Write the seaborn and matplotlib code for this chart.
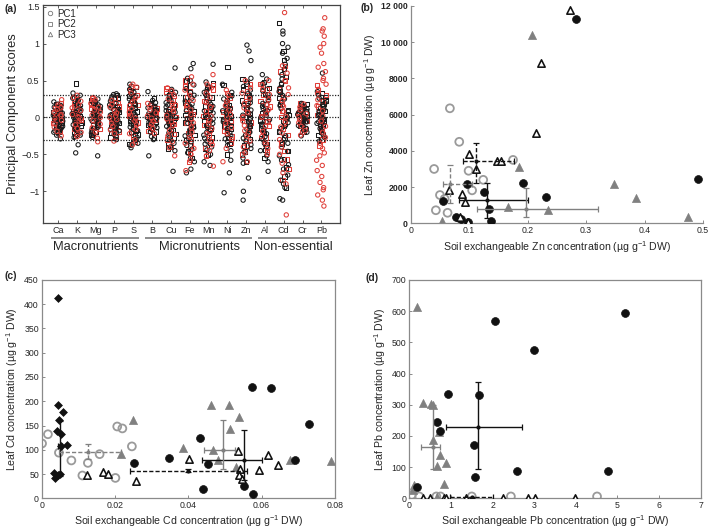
import numpy as np
import pandas as pd
import matplotlib
matplotlib.use("Agg")
import matplotlib.pyplot as plt
from matplotlib.lines import Line2D
import seaborn as sns

# ---------------- Panel (a): PC scores per element ----------------
elements = ["Ca", "K", "Mg", "P", "S", "B", "Cu", "Fe", "Mn", "Ni", "Zn", "Al", "Cd", "Cr", "Pb"]
groups = ["Macronutrients", "Micronutrients", "Non-essential"]
group_members = [["Ca", "K", "Mg", "P", "S"], ["B", "Cu", "Fe", "Mn", "Ni", "Zn"], ["Al", "Cd", "Cr", "Pb"]]
a_yticks = [-1, -0.5, 0, 0.5, 1, 1.5]
a_yticklabels = ["\u22121", "\u22120.5", "0", "0.5", "1", "1.5"]
a_reflines = [-0.3, 0, 0.3]

# circles (PC1): black / red
ca_k = [-0.29, -0.24, -0.22, -0.2, -0.18, -0.17, -0.15, -0.14, -0.12, -0.11, -0.1, -0.08, -0.07, -0.06, -0.05, -0.03, -0.02, -0.01, 0.0, 0.01, 0.02, 0.03, 0.05, 0.06, 0.08, 0.09, 0.1, 0.12, 0.14, 0.16, 0.18, 0.21]
ca_r = [-0.25, -0.19, -0.13, -0.09, -0.04, -0.01, 0.02, 0.04, 0.07, 0.11, 0.13, 0.17, 0.24]
k_k = [-0.48, -0.37, -0.27, -0.24, -0.21, -0.19, -0.16, -0.14, -0.12, -0.1, -0.08, -0.06, -0.05, -0.03, -0.01, 0.0, 0.02, 0.03, 0.05, 0.07, 0.08, 0.1, 0.12, 0.14, 0.16, 0.18, 0.2, 0.23, 0.26, 0.3, 0.33]
k_r = [-0.26, -0.2, -0.15, -0.1, -0.05, -0.02, 0.01, 0.04, 0.09, 0.13, 0.17, 0.22, 0.27, 0.3]
mg_k = [-0.52, -0.27, -0.24, -0.21, -0.19, -0.17, -0.15, -0.13, -0.11, -0.09, -0.08, -0.06, -0.05, -0.03, -0.02, 0.0, 0.01, 0.03, 0.04, 0.06, 0.07, 0.09, 0.11, 0.13, 0.15, 0.17, 0.19, 0.22, 0.25]
mg_r = [-0.33, -0.28, -0.2, -0.14, -0.09, -0.04, 0.0, 0.03, 0.07, 0.1, 0.14, 0.19, 0.24, 0.27]
p_k = [-0.3, -0.26, -0.23, -0.2, -0.18, -0.16, -0.14, -0.12, -0.1, -0.09, -0.07, -0.05, -0.04, -0.02, 0.0, 0.01, 0.03, 0.04, 0.06, 0.08, 0.1, 0.11, 0.13, 0.15, 0.17, 0.19, 0.22, 0.25, 0.28, 0.31, 0.32]
p_r = [-0.32, -0.22, -0.17, -0.12, -0.08, -0.03, 0.0, 0.02, 0.06, 0.09, 0.14, 0.18, 0.23]
s_k = [-0.41, -0.38, -0.35, -0.31, -0.27, -0.24, -0.21, -0.18, -0.16, -0.13, -0.11, -0.09, -0.06, -0.04, -0.02, 0.0, 0.02, 0.04, 0.06, 0.08, 0.1, 0.12, 0.14, 0.17, 0.19, 0.22, 0.25, 0.28, 0.31, 0.34, 0.38, 0.45]
s_r = [-0.37, -0.3, -0.22, -0.16, -0.1, -0.05, -0.01, 0.03, 0.07, 0.12, 0.16, 0.21, 0.27, 0.33, 0.41, 0.45]
b_k = [-0.52, -0.3, -0.26, -0.2, -0.17, -0.14, -0.12, -0.1, -0.08, -0.06, -0.04, -0.03, -0.01, 0.0, 0.02, 0.03, 0.05, 0.07, 0.09, 0.11, 0.13, 0.15, 0.17, 0.2, 0.23, 0.35]
b_r = [-0.22, -0.15, -0.09, -0.05, -0.01, 0.02, 0.06, 0.1, 0.14, 0.19]
cu_k = [-0.73, -0.45, -0.4, -0.35, -0.3, -0.27, -0.24, -0.21, -0.18, -0.15, -0.12, -0.1, -0.07, -0.05, -0.03, 0.0, 0.02, 0.04, 0.07, 0.09, 0.12, 0.14, 0.17, 0.2, 0.23, 0.26, 0.3, 0.34, 0.38, 0.67]
cu_r = [-0.52, -0.41, -0.33, -0.25, -0.18, -0.11, -0.06, -0.02, 0.03, 0.08, 0.13, 0.19, 0.25, 0.31, 0.36, 0.4]
fe_k = [-0.75, -0.7, -0.6, -0.55, -0.48, -0.43, -0.38, -0.33, -0.29, -0.25, -0.21, -0.17, -0.14, -0.11, -0.08, -0.05, -0.02, 0.0, 0.03, 0.06, 0.09, 0.12, 0.15, 0.18, 0.22, 0.26, 0.3, 0.34, 0.39, 0.44, 0.5, 0.53, 0.66, 0.73]
fe_r = [-0.72, -0.58, -0.5, -0.42, -0.35, -0.27, -0.2, -0.13, -0.07, -0.02, 0.04, 0.1, 0.16, 0.23, 0.3, 0.37, 0.45, 0.55]
mn_k = [-0.65, -0.6, -0.5, -0.44, -0.4, -0.36, -0.32, -0.28, -0.24, -0.2, -0.17, -0.14, -0.11, -0.08, -0.05, -0.02, 0.0, 0.03, 0.06, 0.09, 0.12, 0.15, 0.18, 0.22, 0.26, 0.3, 0.34, 0.38, 0.42, 0.48, 0.72]
mn_r = [-0.66, -0.52, -0.45, -0.37, -0.3, -0.22, -0.15, -0.09, -0.03, 0.02, 0.08, 0.14, 0.2, 0.27, 0.33, 0.4, 0.45, 0.58]
ni_k = [-1.02, -0.75, -0.58, -0.45, -0.38, -0.33, -0.29, -0.25, -0.21, -0.18, -0.15, -0.12, -0.09, -0.06, -0.04, -0.01, 0.01, 0.04, 0.06, 0.09, 0.12, 0.15, 0.18, 0.21, 0.25, 0.29, 0.34, 0.45]
ni_r = [-0.6, -0.42, -0.3, -0.22, -0.14, -0.08, -0.02, 0.04, 0.1, 0.16, 0.22, 0.3, 0.37]
zn_k = [-1.12, -1.0, -0.82, -0.62, -0.55, -0.47, -0.42, -0.37, -0.32, -0.28, -0.24, -0.2, -0.16, -0.13, -0.1, -0.06, -0.03, 0.0, 0.03, 0.06, 0.1, 0.13, 0.17, 0.2, 0.24, 0.28, 0.32, 0.37, 0.42, 0.48, 0.53, 0.77, 0.9, 0.98]
zn_r = [-0.6, -0.48, -0.4, -0.32, -0.25, -0.18, -0.11, -0.05, 0.01, 0.07, 0.13, 0.19, 0.26, 0.33, 0.4, 0.5]
al_k = [-0.73, -0.6, -0.52, -0.45, -0.4, -0.35, -0.3, -0.26, -0.22, -0.18, -0.15, -0.12, -0.09, -0.06, -0.03, 0.0, 0.03, 0.06, 0.09, 0.12, 0.15, 0.19, 0.23, 0.27, 0.31, 0.36, 0.41, 0.46, 0.52, 0.58]
al_r = [-0.5, -0.42, -0.34, -0.26, -0.19, -0.12, -0.06, 0.0, 0.05, 0.11, 0.17, 0.24, 0.31, 0.38, 0.44, 0.5]
cd_k = [-1.12, -1.1, -0.95, -0.9, -0.85, -0.78, -0.7, -0.64, -0.58, -0.52, -0.46, -0.4, -0.35, -0.3, -0.25, -0.2, -0.15, -0.11, -0.07, -0.03, 0.0, 0.04, 0.08, 0.12, 0.16, 0.2, 0.25, 0.3, 0.35, 0.4, 0.46, 0.52, 0.58, 0.65, 0.72, 0.8, 0.87, 0.95, 1.0, 1.13, 1.17]
cd_r = [-1.32, -0.9, -0.75, -0.62, -0.5, -0.4, -0.3, -0.21, -0.13, -0.06, 0.01, 0.08, 0.15, 0.23, 0.31, 0.4, 0.5, 0.6, 0.7, 1.42]
cr_k = [-0.25, -0.2, -0.17, -0.15, -0.13, -0.11, -0.09, -0.07, -0.06, -0.04, -0.03, -0.01, 0.0, 0.01, 0.03, 0.04, 0.06, 0.07, 0.09, 0.11, 0.13, 0.15, 0.17, 0.19]
cr_r = [-0.24, -0.18, -0.12, -0.07, -0.03, 0.01, 0.05, 0.1, 0.14, 0.18]
pb_k = [-0.32, -0.27, -0.23, -0.2, -0.17, -0.15, -0.12, -0.1, -0.08, -0.06, -0.04, -0.02, 0.0, 0.02, 0.04, 0.06, 0.08, 0.1, 0.12, 0.15, 0.17, 0.2, 0.23, 0.26, 0.3, 0.35, 0.6]
pb_r = [-1.2, -1.12, -1.05, -0.98, -0.95, -0.88, -0.8, -0.72, -0.65, -0.58, -0.52, -0.48, -0.42, -0.35, -0.27, -0.2, -0.12, -0.05, 0.02, 0.09, 0.16, 0.24, 0.32, 0.38, 0.45, 0.5, 0.53, 0.62, 0.68, 0.73, 0.87, 0.95, 1.0, 1.1, 1.17, 1.2, 1.35]

# squares (PC2): black / red
ca_k2 = [-0.2, -0.16, -0.13, -0.1, -0.07, -0.05, -0.03, 0.0, 0.02, 0.05, 0.07, 0.1, 0.14, 0.18]
ca_r2 = [-0.18, -0.12, -0.08, -0.04, -0.02, 0.01, 0.03, 0.06, 0.09, 0.12, 0.15, 0.2]
k_k2 = [-0.25, -0.2, -0.15, -0.11, -0.07, -0.04, -0.01, 0.02, 0.05, 0.09, 0.13, 0.17, 0.22, 0.28, 0.46]
k_r2 = [-0.22, -0.16, -0.12, -0.07, -0.03, 0.0, 0.03, 0.07, 0.11, 0.15, 0.2, 0.25]
mg_k2 = [-0.24, -0.19, -0.14, -0.1, -0.07, -0.04, -0.01, 0.02, 0.05, 0.08, 0.12, 0.16, 0.2, 0.24]
mg_r2 = [-0.22, -0.16, -0.11, -0.07, -0.03, 0.0, 0.04, 0.08, 0.12, 0.17, 0.22, 0.26]
p_k2 = [-0.27, -0.21, -0.16, -0.12, -0.08, -0.05, -0.02, 0.01, 0.04, 0.07, 0.11, 0.15, 0.2, 0.26, 0.3]
p_r2 = [-0.26, -0.19, -0.13, -0.09, -0.05, -0.01, 0.03, 0.06, 0.1, 0.15, 0.2, 0.27]
s_k2 = [-0.36, -0.29, -0.23, -0.18, -0.13, -0.08, -0.04, 0.0, 0.04, 0.08, 0.13, 0.18, 0.23, 0.29, 0.35, 0.41]
s_r2 = [-0.33, -0.26, -0.19, -0.13, -0.07, -0.02, 0.02, 0.06, 0.11, 0.17, 0.23, 0.3, 0.37, 0.43]
b_k2 = [-0.27, -0.19, -0.14, -0.1, -0.06, -0.03, 0.0, 0.03, 0.06, 0.1, 0.14, 0.19, 0.26]
b_r2 = [-0.18, -0.12, -0.07, -0.03, 0.0, 0.04, 0.08, 0.12, 0.17]
cu_k2 = [-0.42, -0.35, -0.28, -0.22, -0.17, -0.12, -0.08, -0.04, 0.0, 0.04, 0.08, 0.13, 0.18, 0.24, 0.3, 0.36]
cu_r2 = [-0.4, -0.3, -0.22, -0.15, -0.09, -0.04, 0.01, 0.06, 0.11, 0.17, 0.23, 0.29, 0.35, 0.39]
fe_k2 = [-0.55, -0.46, -0.38, -0.31, -0.24, -0.18, -0.12, -0.07, -0.02, 0.03, 0.08, 0.14, 0.2, 0.27, 0.34, 0.42, 0.5]
fe_r2 = [-0.6, -0.48, -0.38, -0.29, -0.21, -0.14, -0.08, -0.01, 0.05, 0.12, 0.19, 0.27, 0.35, 0.43, 0.5]
mn_k2 = [-0.5, -0.42, -0.34, -0.27, -0.21, -0.15, -0.1, -0.05, 0.0, 0.05, 0.1, 0.15, 0.21, 0.27, 0.34, 0.41, 0.46]
mn_r2 = [-0.52, -0.41, -0.32, -0.24, -0.17, -0.1, -0.04, 0.02, 0.08, 0.15, 0.22, 0.3, 0.38, 0.44]
ni_k2 = [-0.5, -0.36, -0.28, -0.22, -0.16, -0.11, -0.06, -0.02, 0.02, 0.07, 0.12, 0.17, 0.23, 0.3, 0.44, 0.68]
ni_r2 = [-0.35, -0.26, -0.18, -0.11, -0.05, 0.01, 0.07, 0.13, 0.19, 0.26, 0.33]
zn_k2 = [-0.6, -0.46, -0.38, -0.3, -0.23, -0.17, -0.11, -0.05, 0.0, 0.05, 0.11, 0.17, 0.23, 0.3, 0.38, 0.46, 0.52]
zn_r2 = [-0.5, -0.38, -0.29, -0.21, -0.14, -0.07, 0.0, 0.06, 0.13, 0.2, 0.28, 0.36, 0.45]
al_k2 = [-0.55, -0.44, -0.36, -0.28, -0.21, -0.15, -0.09, -0.04, 0.01, 0.06, 0.12, 0.18, 0.25, 0.32, 0.4, 0.48]
al_r2 = [-0.46, -0.36, -0.27, -0.19, -0.12, -0.05, 0.02, 0.08, 0.15, 0.22, 0.3, 0.38, 0.45]
cd_k2 = [-0.95, -0.8, -0.68, -0.56, -0.45, -0.36, -0.27, -0.19, -0.11, -0.04, 0.03, 0.1, 0.18, 0.26, 0.35, 0.45, 0.55, 0.66, 0.78, 0.9, 1.28]
cd_r2 = [-0.85, -0.7, -0.57, -0.45, -0.34, -0.24, -0.15, -0.07, 0.01, 0.09, 0.18, 0.28, 0.38, 0.5, 0.62, 0.7]
cr_k2 = [-0.2, -0.15, -0.11, -0.08, -0.05, -0.02, 0.0, 0.02, 0.05, 0.08, 0.11, 0.15, 0.18]
cr_r2 = [-0.2, -0.14, -0.09, -0.05, -0.01, 0.02, 0.06, 0.1, 0.15, 0.19]
pb_k2 = [-0.3, -0.24, -0.19, -0.14, -0.1, -0.06, -0.02, 0.01, 0.05, 0.09, 0.13, 0.18, 0.23, 0.28, 0.33]
pb_r2 = [-0.38, -0.3, -0.22, -0.15, -0.09, -0.03, 0.03, 0.09, 0.15, 0.22, 0.3, 0.37, 0.44]

# ---------------- Panel (b): Zn ----------------
zn_bc_x = [0.282, 0.491, 0.232, 0.192, 0.096, 0.126, 0.134, 0.138, 0.055, 0.078, 0.086, 0.098]
zn_bc_y = [11300, 2450, 1450, 2250, 2150, 1720, 770, 130, 1240, 360, 230, 90]
zn_ot_x = [0.273, 0.223, 0.215, 0.100, 0.148, 0.154, 0.112, 0.066, 0.087, 0.092, 0.084, 0.098]
zn_ot_y = [11800, 8850, 5000, 3830, 3450, 3460, 2980, 1850, 1620, 1200, 320, 80]
zn_gt_x = [0.208, 0.185, 0.347, 0.385, 0.474, 0.166, 0.234, 0.054, 0.086, 0.097]
zn_gt_y = [10400, 3100, 2150, 1380, 330, 900, 740, 150, 230, 60]
zn_gc_x = [0.067, 0.083, 0.040, 0.175, 0.099, 0.124, 0.105, 0.050, 0.058, 0.043, 0.063]
zn_gc_y = [6350, 4500, 3000, 3500, 2900, 2400, 1820, 1560, 1350, 720, 580]
# mean crosses: black solid, gray solid, black dashed, gray dashed
zn_m_x = [0.130, 0.197, 0.112, 0.068]
zn_m_y = [1300, 790, 3450, 2150]
zn_m_xlo = [0.047, 0.083, 0.022, 0.013]
zn_m_xhi = [0.071, 0.124, 0.064, 0.037]
zn_m_ylo = [1020, 460, 1240, 1050]
zn_m_yhi = [900, 1180, 1010, 1050]
zn_yticks = [0, 2000, 4000, 6000, 8000, 10000, 12000]
zn_yticklabels = ["0", "2000", "4000", "6000", "8000", "10 000", "12 000"]
zn_xticks = [0, 0.1, 0.2, 0.3, 0.4, 0.5]
zn_xticklabels = ["0", "0.1", "0.2", "0.3", "0.4", "0.5"]

# ---------------- Panel (c): Cd ----------------
cd_bd_x = [0.0045, 0.0044, 0.0059, 0.0047, 0.0042, 0.0054, 0.0052, 0.0068, 0.0033, 0.0037, 0.0051, 0.0045]
cd_bd_y = [413, 192, 178, 162, 138, 132, 108, 109, 52, 42, 50, 48]
cd_gc_x = [0.0001, 0.0017, 0.0047, 0.0081, 0.0111, 0.0126, 0.0158, 0.0201, 0.0206, 0.0220, 0.0246]
cd_gc_y = [113, 132, 94, 78, 47, 73, 91, 42, 148, 144, 107]
cd_ot_x = [0.0123, 0.0168, 0.0180, 0.0257, 0.0401, 0.0536, 0.0540, 0.0538, 0.0545, 0.0593, 0.0618, 0.0644]
cd_ot_y = [47, 54, 51, 36, 80, 97, 60, 47, 39, 59, 90, 68]
cd_bc_x = [0.0573, 0.0625, 0.0729, 0.0432, 0.0348, 0.0253, 0.0453, 0.0690, 0.0441, 0.0552, 0.0576]
cd_bc_y = [230, 227, 154, 125, 83, 72, 71, 79, 20, 25, 8]
cd_gt_x = [0.0250, 0.0215, 0.0385, 0.0461, 0.0511, 0.0538, 0.0514, 0.0466, 0.0482, 0.0530, 0.0677, 0.0788]
cd_gt_y = [162, 92, 104, 193, 193, 168, 143, 99, 79, 65, 78, 76]
# mean crosses: diamonds (solid), gray dashed, black dashed, black solid, gray solid
cd_m_x = [0.0050, 0.0126, 0.0400, 0.0553, 0.0495]
cd_m_y = [107, 95, 57, 78, 100]
cd_m_xlo = [0.0005, 0.0078, 0.0160, 0.0117, 0.0052]
cd_m_xhi = [0.0005, 0.0089, 0.0160, 0.0047, 0.0032]
cd_m_ylo = [62, 15, 3, 40, 40]
cd_m_yhi = [53, 17, 3, 62, 61]
cd_yticks = [0, 50, 100, 150, 200, 250, 300, 350, 400, 450]
cd_xticks = [0, 0.02, 0.04, 0.06, 0.08]
cd_xticklabels = ["0", "0.02", "0.04", "0.06", "0.08"]

# ---------------- Panel (d): Pb ----------------
pb_bc_x = [5.19, 2.05, 2.99, 0.94, 1.67, 0.67, 0.74, 1.56, 1.59, 2.58, 4.77, 0.18]
pb_bc_y = [594, 568, 476, 334, 330, 244, 217, 172, 68, 88, 89, 37]
pb_gt_x = [0.19, 0.34, 0.53, 0.57, 0.56, 0.72, 0.74, 0.66, 0.88, 0.84, 0.12, 0.10, 0.66]
pb_gt_y = [612, 307, 302, 298, 188, 212, 140, 102, 113, 46, 43, 27, 5]
pb_gc_x = [0.06, 0.24, 0.65, 0.75, 1.50, 2.44, 4.51]
pb_gc_y = [11, 6, 6, 6, 6, 6, 6]
pb_ot_x = [0.34, 0.50, 0.84, 0.87, 1.36, 2.24, 2.84, 3.01, 3.99]
pb_ot_y = [2, 2, 2, 2, 2, 2, 2, 2, 2]
# mean crosses: black solid, gray solid, black dashed
pb_m_x = [1.64, 0.56, 1.50]
pb_m_y = [229, 165, 3]
pb_m_xlo = [0.77, 0.28, 0.52]
pb_m_xhi = [1.06, 0.18, 0.52]
pb_m_ylo = [135, 70, 2]
pb_m_yhi = [143, 135, 2]
pb_yticks = [0, 100, 200, 300, 400, 500, 600, 700]
pb_xticks = [0, 1, 2, 3, 4, 5, 6, 7]

# ---------------- Style ----------------
sns.set_theme(style="white")
plt.rcParams["font.family"] = ["Liberation Sans", "DejaVu Sans"]
plt.rcParams["mathtext.fontset"] = "custom"
plt.rcParams["mathtext.rm"] = "Liberation Sans"
plt.rcParams["mathtext.it"] = "Liberation Sans:italic"
plt.rcParams["mathtext.bf"] = "Liberation Sans:bold"

BLACK = "#111111"
GRAY_T = "#808080"
GRAY_C = "#9a9a9a"
RED = "#e0403a"
unit = "(\u00b5g g$^{-1}$ DW)"

fig = plt.figure(figsize=(7.09, 5.30), dpi=100)

# ---------------- Panel (a) ----------------
ax = fig.add_axes([0.0607, 0.5792, 0.419, 0.411])
black_lists = [ca_k, k_k, mg_k, p_k, s_k, b_k, cu_k, fe_k, mn_k, ni_k, zn_k, al_k, cd_k, cr_k, pb_k]
red_lists = [ca_r, k_r, mg_r, p_r, s_r, b_r, cu_r, fe_r, mn_r, ni_r, zn_r, al_r, cd_r, cr_r, pb_r]
black_lists2 = [ca_k2, k_k2, mg_k2, p_k2, s_k2, b_k2, cu_k2, fe_k2, mn_k2, ni_k2, zn_k2, al_k2, cd_k2, cr_k2, pb_k2]
red_lists2 = [ca_r2, k_r2, mg_r2, p_r2, s_r2, b_r2, cu_r2, fe_r2, mn_r2, ni_r2, zn_r2, al_r2, cd_r2, cr_r2, pb_r2]


def make_df(kls, rls):
    rows = []
    for el, kl, rl in zip(elements, kls, rls):
        rows += [(el, v, "k") for v in kl]
        rows += [(el, v, "r") for v in rl]
    return pd.DataFrame(rows, columns=["element", "score", "grp"])


def open_new(ax, n_before):
    for coll in ax.collections[n_before:]:
        fc = coll.get_facecolor()
        coll.set_edgecolor(fc)
        coll.set_facecolor("none")
        coll.set_linewidth(0.75)


np.random.seed(3)
for kls, rls, mk in [(black_lists2, red_lists2, "s"), (black_lists, red_lists, "o")]:
    n0 = len(ax.collections)
    sns.stripplot(data=make_df(kls, rls), x="element", y="score", hue="grp", order=elements,
                  hue_order=["r", "k"], palette={"k": "#1a1a1a", "r": RED}, marker=mk,
                  jitter=0.26, size=3.1, linewidth=0, legend=False, ax=ax, zorder=2)
    open_new(ax, n0)

for yv in a_reflines:
    ax.axhline(yv, color="#222222", ls=(0, (1, 1.2)), lw=0.9, zorder=5)
ax.set_xlim(-0.8, 15.0)
ax.set_ylim(-1.43, 1.52)
ax.set_yticks(a_yticks)
ax.set_yticklabels(a_yticklabels)
ax.set_xticks(range(len(elements)))
ax.set_xticklabels(elements)
ax.set_xlabel("")
ax.set_ylabel("Principal Component scores", fontsize=9.3, labelpad=2)
ax.tick_params(axis="both", direction="in", length=2.5, width=0.6, labelsize=6.5,
               pad=2.5, color="#444444", top=True, left=True, bottom=True)
for sp in ax.spines.values():
    sp.set_color("#444444")
    sp.set_linewidth(0.9)
trans = ax.get_xaxis_transform()
for g, members in zip(groups, group_members):
    i0 = elements.index(members[0])
    i1 = elements.index(members[-1])
    ax.plot([i0 - 0.37, i1 + 0.3], [-0.067, -0.067], transform=trans, clip_on=False,
            color="#777777", lw=1.2, solid_capstyle="butt")
    ax.text((i0 + i1) / 2, -0.112, g, transform=trans, ha="center", va="center", fontsize=9.3)
leg_handles = [Line2D([], [], ls="", marker=m, mfc="none", mec="#777777", ms=3.2, mew=0.6)
               for m in ["o", "s", "^"]]
ax.legend(leg_handles, ["PC1", "PC2", "PC3"], loc="upper left", frameon=False, fontsize=7,
          handletextpad=0.3, labelspacing=0.05, borderaxespad=0.25, handlelength=0.8,
          borderpad=0.1)


def cross(ax, x, y, xlo, xhi, ylo, yhi, color, dashed):
    eb = ax.errorbar([x], [y], xerr=[[xlo], [xhi]], yerr=[[ylo], [yhi]], fmt="o", ms=2,
                     color=color, ecolor=color, elinewidth=1.0, capsize=2.5, capthick=0.9,
                     zorder=6)
    if dashed:
        for lc in eb[2]:
            lc.set_linestyle((0, (3, 1.5)))


def style_xy(ax, box):
    ax.tick_params(axis="both", direction="in", length=2.5, width=0.6, labelsize=6.3,
                   pad=2, color="#777777", left=True, bottom=True)
    for name, sp in ax.spines.items():
        sp.set_color("#8a8a8a")
        sp.set_linewidth(0.9)
        if not box and name in ("top", "right"):
            sp.set_visible(False)


def scat(ax, xs, ys, kind):
    if kind == "bc":
        sns.scatterplot(x=xs, y=ys, ax=ax, marker="o", s=32, color=BLACK, edgecolor=BLACK,
                        linewidth=0.5, zorder=3)
    elif kind == "gc":
        sns.scatterplot(x=xs, y=ys, ax=ax, marker="o", s=32, color=GRAY_C, facecolor="none",
                        edgecolor=GRAY_C, linewidth=1.3, zorder=2)
    elif kind == "gt":
        sns.scatterplot(x=xs, y=ys, ax=ax, marker="^", s=34, color=GRAY_T, edgecolor=GRAY_T,
                        linewidth=0.5, zorder=2)
    elif kind == "ot":
        sns.scatterplot(x=xs, y=ys, ax=ax, marker="^", s=28, color=BLACK, facecolor="white",
                        edgecolor=BLACK, linewidth=1.15, zorder=4)
    elif kind == "bd":
        sns.scatterplot(x=xs, y=ys, ax=ax, marker="D", s=16, color=BLACK, edgecolor=BLACK,
                        linewidth=0.5, zorder=4)


# ---------------- Panel (b) ----------------
ax = fig.add_axes([0.5793, 0.5787, 0.4123, 0.41])
scat(ax, zn_gc_x, zn_gc_y, "gc")
scat(ax, zn_gt_x, zn_gt_y, "gt")
scat(ax, zn_bc_x, zn_bc_y, "bc")
scat(ax, zn_ot_x, zn_ot_y, "ot")
zn_styles = [(BLACK, False), (GRAY_T, False), (BLACK, True), (GRAY_T, True)]
for i, (c, d) in enumerate(zn_styles):
    cross(ax, zn_m_x[i], zn_m_y[i], zn_m_xlo[i], zn_m_xhi[i], zn_m_ylo[i], zn_m_yhi[i], c, d)
ax.set_xlim(0, 0.5)
ax.set_ylim(0, 12000)
ax.set_xticks(zn_xticks)
ax.set_xticklabels(zn_xticklabels)
ax.set_yticks(zn_yticks)
ax.set_yticklabels(zn_yticklabels, fontweight="bold")
ax.set_xlabel("Soil exchangeable Zn concentration " + unit, fontsize=7.6, labelpad=3)
ax.set_ylabel("Leaf Zn concentration " + unit, fontsize=7.6, labelpad=2)
style_xy(ax, box=False)

# ---------------- Panel (c) ----------------
ax = fig.add_axes([0.0588, 0.0598, 0.4137, 0.412])
scat(ax, cd_gc_x, cd_gc_y, "gc")
scat(ax, cd_gt_x, cd_gt_y, "gt")
scat(ax, cd_bc_x, cd_bc_y, "bc")
scat(ax, cd_ot_x, cd_ot_y, "ot")
scat(ax, cd_bd_x, cd_bd_y, "bd")
cd_styles = [(BLACK, False), (GRAY_T, True), (BLACK, True), (BLACK, False), (GRAY_T, False)]
for i, (c, d) in enumerate(cd_styles):
    cross(ax, cd_m_x[i], cd_m_y[i], cd_m_xlo[i], cd_m_xhi[i], cd_m_ylo[i], cd_m_yhi[i], c, d)
ax.set_xlim(0, 0.08)
ax.set_ylim(0, 450)
ax.set_xticks(cd_xticks)
ax.set_xticklabels(cd_xticklabels)
ax.set_yticks(cd_yticks)
ax.set_xlabel("Soil exchangeable Cd concentration " + unit, fontsize=7.6, labelpad=2)
ax.set_ylabel("Leaf Cd concentration " + unit, fontsize=7.6, labelpad=3)
style_xy(ax, box=True)

# ---------------- Panel (d) ----------------
ax = fig.add_axes([0.5773, 0.0598, 0.411, 0.412])
scat(ax, pb_gc_x, pb_gc_y, "gc")
scat(ax, pb_gt_x, pb_gt_y, "gt")
scat(ax, pb_bc_x, pb_bc_y, "bc")
scat(ax, pb_ot_x, pb_ot_y, "ot")
pb_styles = [(BLACK, False), (GRAY_T, False), (BLACK, True)]
for i, (c, d) in enumerate(pb_styles):
    cross(ax, pb_m_x[i], pb_m_y[i], pb_m_xlo[i], pb_m_xhi[i], pb_m_ylo[i], pb_m_yhi[i], c, d)
ax.set_xlim(0, 7)
ax.set_ylim(0, 700)
ax.set_xticks(pb_xticks)
ax.set_yticks(pb_yticks)
ax.set_xlabel("Soil exchangeable Pb concentration " + unit, fontsize=7.6, labelpad=2)
ax.set_ylabel("Leaf Pb concentration " + unit, fontsize=7.6, labelpad=3)
style_xy(ax, box=True)

# panel letters
for txt, x, y in [("(a)", 0.006, 0.992), ("(b)", 0.508, 0.995), ("(c)", 0.006, 0.488), ("(d)", 0.515, 0.485)]:
    fig.text(x, y, txt, fontsize=7.5, fontweight="bold", ha="left", va="top")

fig.savefig("out.png", dpi=100)
